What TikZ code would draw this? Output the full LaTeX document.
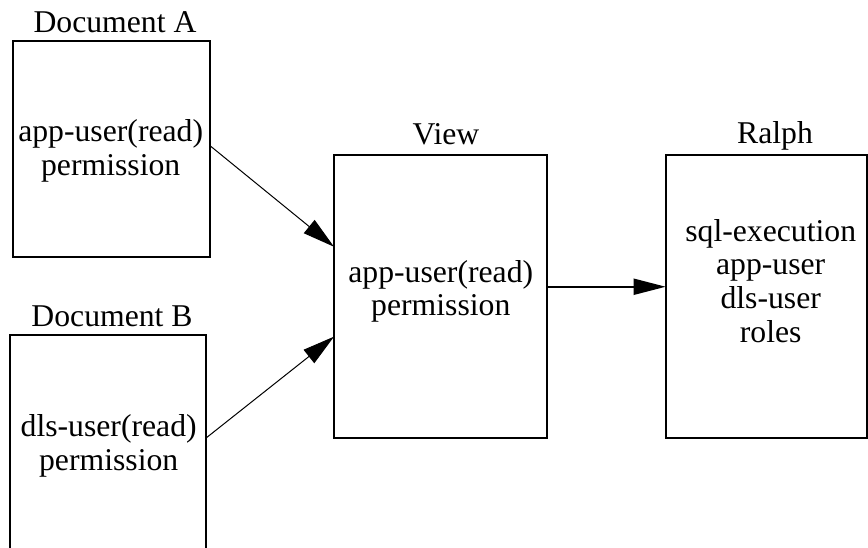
\documentclass[tikz,border=0pt]{standalone}
\usepackage{fontspec}
\setmainfont{Liberation Serif}
\usetikzlibrary{arrows.meta}
\tikzset{
  box/.style={draw=black, line width=1.7pt, inner sep=0pt, outer sep=0pt, fill=none},
  txt/.style={font=\fontsize{31.7}{33.6}\selectfont, align=center, inner sep=0pt, outer sep=0pt},
  thinarr/.style={draw=black, line width=1pt, -{Triangle[length=32pt, width=17pt]}},
  thickarr/.style={draw=black, line width=1.9pt, -{Triangle[length=32pt, width=16pt]}},
}
\begin{document}
\begin{tikzpicture}[x=1pt, y=-1pt]
\useasboundingbox (0,0) rectangle (868,548);
\fill[white] (0,0) rectangle (868,548);
\clip (0,0) rectangle (868,548);

% boxes
\node[box, minimum width=197.3pt, minimum height=216pt] (docA) at (111.35,148.7) {};
\node[box, minimum width=195.7pt, minimum height=265pt] (docB) at (107.85,467.5) {};
\node[box, minimum width=213pt, minimum height=283.3pt] (view) at (440.5,296.65) {};
\node[box, minimum width=201.5pt, minimum height=283.3pt] (ralph) at (766.45,296.65) {};

% titles
\node[txt, anchor=base] (titleA) at (115,33) {Document A};
\node[txt, anchor=base] (titleB) at (112,326.7) {Document B};
\node[txt, anchor=base] (titleV) at (446,145) {View};
\node[txt, anchor=base] (titleR) at (775,144) {Ralph};

% contents (anchor=base is the baseline of the last line)
\node[txt, anchor=base] (textA) at (110.7,175.3) {app-user(read)\\permission};
\node[txt, anchor=base] (textB) at (108.7,470.3) {dls-user(read)\\permission};
\node[txt, anchor=base] (textV) at (440.8,315.7) {app-user(read)\\permission};
\node[txt, anchor=base] (textR) at (770.7,342) {sql-execution\\app-user\\dls-user\\roles};

% connectors
\draw[thinarr] ([yshift=3pt]docA.east) -- ([yshift=49.9pt]view.west);
\draw[thinarr] ([yshift=29.2pt]docB.east) -- ([yshift=-40pt]view.west);
\draw[thickarr] ([yshift=9.9pt]view.east) -- ([yshift=9.9pt]ralph.west);
\end{tikzpicture}
\end{document}
